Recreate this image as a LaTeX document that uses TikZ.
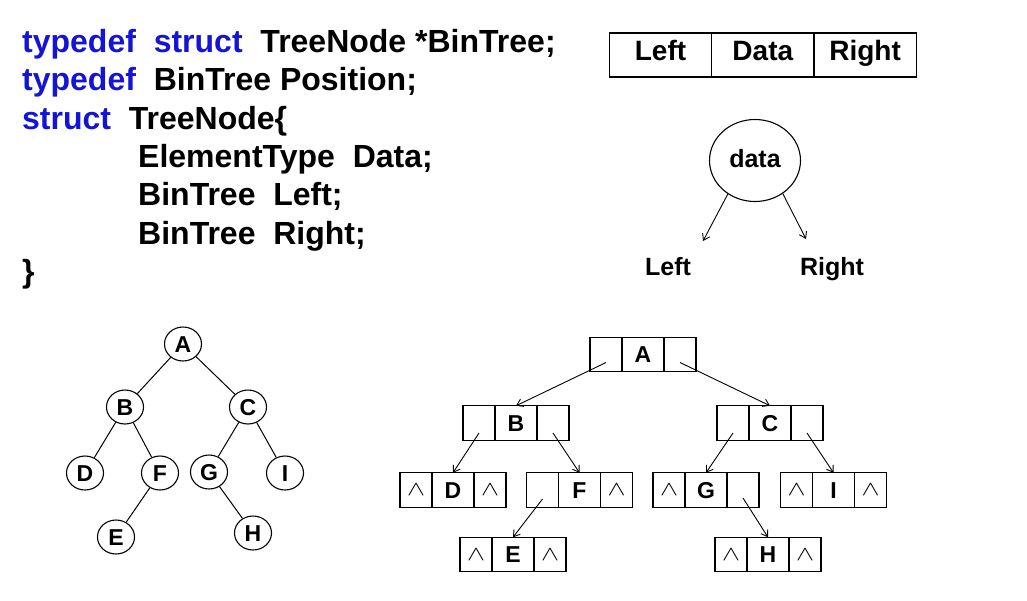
\documentclass[tikz,border=0pt]{standalone}
\usepackage{fontspec}
\setmainfont{Liberation Sans}
\usetikzlibrary{positioning, arrows.meta, shapes.geometric}

\definecolor{kwblue}{RGB}{20,20,215}
\newcommand{\kw}[1]{\textcolor{kwblue}{#1}}
\newcommand{\nullmark}{\raisebox{-4pt}{\scalebox{1.3}[1]{$\wedge$}}}

\begin{document}
\begin{tikzpicture}[x=1pt, y=-1pt,
    code/.style={anchor=base west, inner sep=0pt, font=\fontsize{32}{36}\selectfont\bfseries},
    field/.style={draw, line width=1.2pt, minimum width=102.3pt, minimum height=44pt, inner sep=0pt, outer sep=0pt,
      text height=20pt, text depth=10pt, font=\fontsize{28}{30}\selectfont\bfseries},
    label/.style={inner sep=0pt, text height=18pt, text depth=0pt, font=\fontsize{25}{27}\selectfont\bfseries},
    tnode/.style={draw, ellipse, line width=1.1pt, minimum width=37pt, minimum height=34pt, inner sep=0pt,
      text height=16.5pt, text depth=0pt, font=\fontsize{23}{25}\selectfont\bfseries},
    ptr/.style={draw, line width=1.1pt, minimum width=32pt, minimum height=34.5pt, inner sep=0pt, outer sep=0pt,
      font=\fontsize{21}{23}\selectfont},
    val/.style={ptr, minimum width=42pt, text height=16.5pt, text depth=0pt, font=\fontsize{23}{25}\selectfont\bfseries},
    edge/.style={line width=1pt},
    link/.style={line width=0.9pt, -{Straight Barb[length=6pt, width=8pt]}}
  ]
  \useasboundingbox (0,0) rectangle (1027,600);

  % the declaration
  \node[code] (code1) at (22,52.5) {\kw{typedef}~~\kw{struct}~~TreeNode *BinTree;};
  \node[code] (code2) at (22,90.8) {\kw{typedef}~~BinTree Position;};
  \node[code] (code3) at (22,129.1) {\kw{struct}~~TreeNode\{};
  \node[code] (code4) at (22,167.4) {\hspace*{116pt}ElementType~~Data;};
  \node[code] (code5) at (22,205.7) {\hspace*{116pt}BinTree~~Left;};
  \node[code] (code6) at (22,244) {\hspace*{116pt}BinTree~~Right;};
  \node[code] (code7) at (22,282.3) {\}};

  % one node as a record
  \node[field] (fleft) at (660.5,55) {Left};
  \node[field, right=0pt of fleft] (fdata) {Data};
  \node[field, right=0pt of fdata] (fright) {Right};

  % one node as a circle
  \node[draw, ellipse, line width=1.1pt, minimum width=91pt, minimum height=82pt, inner sep=0pt,
    text height=18pt, text depth=5pt, font=\fontsize{25}{27}\selectfont\bfseries] (dnode) at (755,160.5) {data};
  \coordinate (lend) at (703,241);
  \coordinate (rend) at (806,239);
  \draw[link] (dnode.-129) -- (lend);
  \draw[link] (dnode.-50) -- (rend);
  \node[label] (lleft) at (668,266) {Left};
  \node[label] (lright) at (832,266) {Right};

  % binary tree
  \node[tnode] (A) at (183,344) {A};
  \node[tnode] (B) at (125,407) {B};
  \node[tnode] (C) at (248,407) {C};
  \node[tnode] (D) at (85,473) {D};
  \node[tnode] (F) at (160,473) {F};
  \node[tnode] (G) at (209,472) {G};
  \node[tnode] (I) at (285,473) {I};
  \node[tnode] (E) at (116,537) {E};
  \node[tnode] (H) at (253,533) {H};
  \draw[edge] (A) -- (B);
  \draw[edge] (A) -- (C);
  \draw[edge] (B) -- (D);
  \draw[edge] (B) -- (F);
  \draw[edge] (F) -- (E);
  \draw[edge] (C) -- (G);
  \draw[edge] (C) -- (I);
  \draw[edge] (G) -- (H);

  % linked representation
  \foreach \n/\x/\y/\l/\r in {A/643/354.5/{}/{}, B/516/423/{}/{}, C/770/423/{}/{},
      D/453/490/\nullmark/\nullmark, F/579.5/490/{}/\nullmark, G/706/490/\nullmark/{},
      I/833.5/490/\nullmark/\nullmark, E/513/554.5/\nullmark/\nullmark, H/768/554.5/\nullmark/\nullmark}{
    \node[val] (r\n) at (\x,\y) {\n};
    \node[ptr, left=0pt of r\n] (r\n-l) {\l};
    \node[ptr, right=0pt of r\n] (r\n-r) {\r};
  }
  \draw[link] ([yshift=-8pt]rA-l.center) -- (rB.north);
  \draw[link] ([yshift=-8pt]rA-r.center) -- (rC.north);
  \draw[link] ([yshift=-10pt]rB-l.center) -- (rD.north);
  \draw[link] ([yshift=-10pt]rB-r.center) -- (rF.north);
  \draw[link] ([yshift=-10pt]rC-l.center) -- (rG.north);
  \draw[link] ([yshift=-10pt]rC-r.center) -- (rI.north);
  \draw[link] ([yshift=-9pt]rF-l.center) -- (rE.north);
  \draw[link] ([yshift=-8pt]rG-r.center) -- (rH.north);
\end{tikzpicture}
\end{document}
